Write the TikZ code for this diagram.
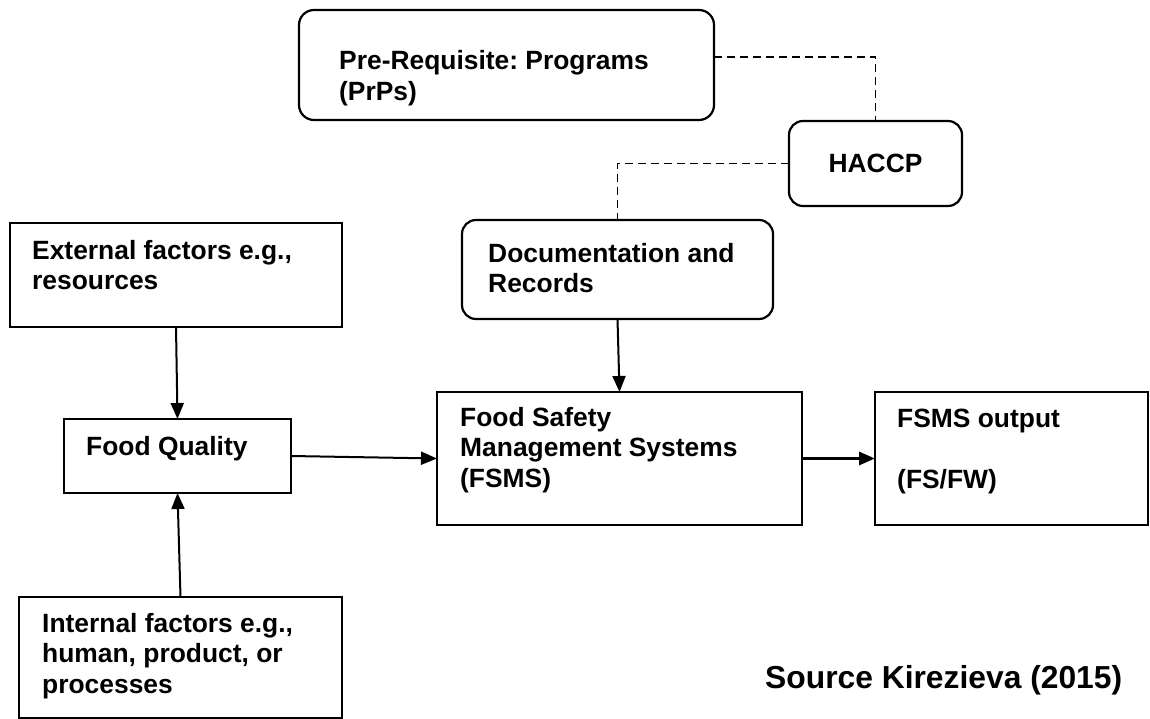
\documentclass[tikz,border=0pt]{standalone}
\usepackage{fontspec}
\setmainfont{Liberation Sans}
\usetikzlibrary{arrows.meta}
\frenchspacing
\begin{document}
\begin{tikzpicture}[x=1pt,y=-1pt,
  box/.style={draw=black, line width=2.2pt, inner sep=0pt, outer sep=0pt, anchor=north west},
  rbox/.style={box, rounded corners=15pt},
  % labels are placed at the baseline of their last line
  lbl/.style={anchor=base west, inner sep=0pt, align=left,
    font=\bfseries\fontsize{26.4}{30.5}\selectfont},
  arr/.style={line width=2pt, -{Triangle[length=16pt,width=13pt]}},
  heavyarr/.style={line width=3.2pt, -{Triangle[length=16pt,width=13pt]}},
  link/.style={line width=1.9pt, dash pattern=on 8pt off 5pt}]
\useasboundingbox (0,0) rectangle (1150,719);

% boxes
\node[rbox, minimum width=415pt, minimum height=110pt] (prps) at (299,10) {};
\node[rbox, rounded corners=14pt, minimum width=173pt, minimum height=85pt,
  font=\bfseries\fontsize{26.4}{30.5}\selectfont] (haccp) at (789,121) {HACCP};
\node[rbox, rounded corners=14pt, minimum width=311pt, minimum height=99pt] (doc) at (462,220) {};
\node[box, minimum width=332pt, minimum height=104pt] (ext) at (10,223) {};
\node[box, minimum width=227pt, minimum height=74pt] (fq) at (64,419) {};
\node[box, minimum width=323pt, minimum height=121pt] (int) at (19,597) {};
\node[box, minimum width=365pt, minimum height=133pt] (fsms) at (437,392) {};
\node[box, minimum width=273pt, minimum height=133pt] (out) at (875,392) {};

% box texts
\node[lbl] (tprps) at (339,100.5) {Pre-Requisite: Programs\\(PrPs)};
\node[lbl] (tdoc) at (488,292.5) {Documentation and\\Records};
\node[lbl] (text) at (32,289.5) {External factors e.g.,\\resources};
\node[lbl] (tfq) at (86,455) {Food Quality};
\node[lbl] (tint) at (42,693) {Internal factors e.g.,\\human, product, or\\processes};
\node[lbl] (tfsms) at (460,487) {Food Safety\\Management Systems\\(FSMS)};
\node[lbl] (tout) at (897,488) {FSMS output\\\mbox{}\\(FS/FW)};
\node[lbl, font=\bfseries\fontsize{31.8}{36}\selectfont] (src) at (765,688) {Source Kirezieva (2015)};

% dashed links
\draw[link] ([yshift=8pt]prps.east) -| (haccp.north);
\draw[link] (haccp.west) -| (doc.north);

% arrows
\draw[arr] (doc.south) -- (fsms.north);
\draw[arr] (ext.south) -- (fq.north);
\draw[arr] (int.north) -- (fq.south);
\draw[arr] (fq.east) -- (fsms.west);
\draw[heavyarr] (fsms.east) -- (out.west);
\end{tikzpicture}
\end{document}
